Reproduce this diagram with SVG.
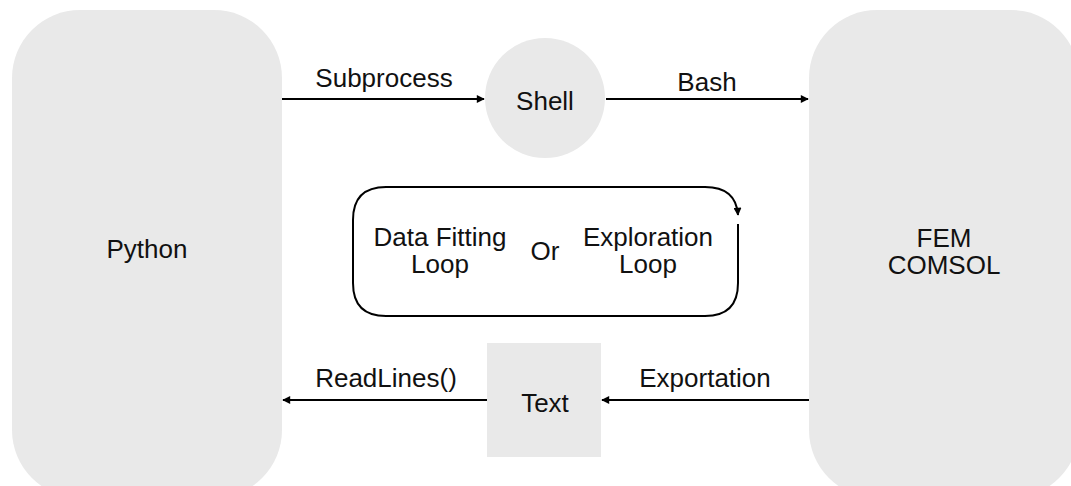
<svg xmlns="http://www.w3.org/2000/svg" width="1071" height="486" viewBox="0 0 1071 486">
<style>
.node{fill:#e9e9e9;stroke:none}
text{font-family:"Liberation Sans",Arial,sans-serif;font-size:26px;fill:#111;text-anchor:middle}
.edge{stroke:#000;stroke-width:2;fill:none}
</style>
<defs>
<marker id="ah" viewBox="0 0 10 10" refX="9" refY="5" markerWidth="9" markerHeight="8" markerUnits="userSpaceOnUse" orient="auto">
<path d="M0,0 L10,5 L0,10 Z" fill="#000"/>
</marker>
</defs>
<rect width="1071" height="486" fill="#fff"/>
<g id="python">
<rect class="node" x="12" y="10" width="270" height="488" rx="68"/>
<text x="147" y="258">Python</text>
</g>
<g id="fem">
<rect class="node" x="809" y="10" width="270" height="488" rx="68"/>
<text x="944" y="247">FEM<tspan x="944" dy="27">COMSOL</tspan></text>
</g>
<g id="shell">
<circle class="node" cx="545" cy="98" r="60"/>
<text x="545" y="110">Shell</text>
</g>
<g id="text">
<rect class="node" x="487" y="343" width="114" height="114"/>
<text x="545" y="412">Text</text>
</g>
<g id="loop">
<path class="edge" d="M738,224 L738,283 Q738,316 705,316 L386,316 Q353,316 353,283 L353,220 Q353,187 386,187 L705,187 Q736,187 738,215" marker-end="url(#ah)"/>
<text x="440" y="246">Data Fitting<tspan x="440" dy="27">Loop</tspan></text>
<text x="545" y="260">Or</text>
<text x="648" y="246">Exploration<tspan x="648" dy="27">Loop</tspan></text>
</g>
<g id="connectors">
<line class="edge" x1="282" y1="99" x2="484" y2="99" marker-end="url(#ah)"/>
<text x="384" y="87">Subprocess</text>
<line class="edge" x1="606" y1="99" x2="808" y2="99" marker-end="url(#ah)"/>
<text x="707" y="91">Bash</text>
<line class="edge" x1="487" y1="400" x2="283" y2="400" marker-end="url(#ah)"/>
<text x="386" y="387">ReadLines()</text>
<line class="edge" x1="809" y1="400" x2="602" y2="400" marker-end="url(#ah)"/>
<text x="705" y="387">Exportation</text>
</g>
</svg>
